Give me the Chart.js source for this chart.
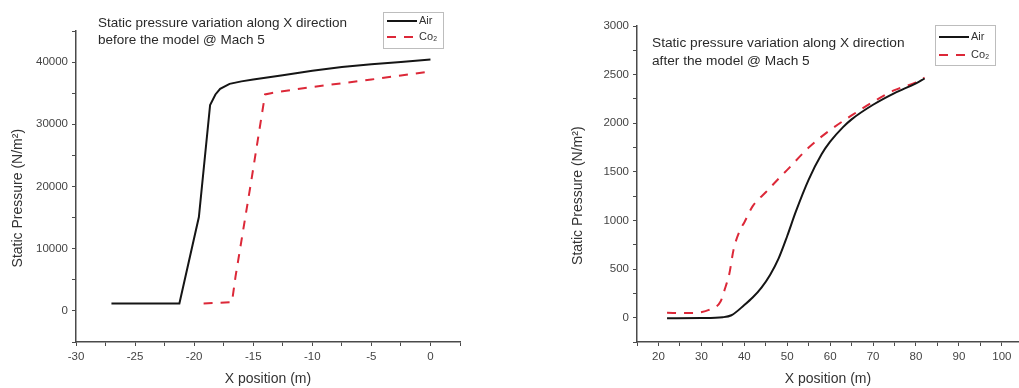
<!DOCTYPE html>
<html>
<head>
<meta charset="utf-8">
<script src="https://cdn.jsdelivr.net/npm/chart.js@4/dist/chart.umd.min.js"></script>
<style>
  body { margin: 0; background: #fff; }
  #wrap { position: relative; width: 1019px; height: 388px; overflow: hidden; }
  canvas { position: absolute; top: 0; }
</style>
</head>
<body>
<div id="wrap">
  <canvas id="before" width="510" height="388" style="left:0"></canvas>
  <canvas id="after" width="509" height="388" style="left:510px"></canvas>
</div>
<script>
// Before the model (left panel)
const beforeAirX = [-27, -21.25, -19.6, -18.65, -18.2, -17.8, -17.0, -16.0, -15.0, -12.5, -10, -7.5, -5, -2.5, 0];
const beforeAirY = [1200, 1200, 15100, 33100, 34800, 35700, 36500, 36900, 37200, 37900, 38600, 39200, 39650, 40000, 40400];
const beforeCo2X = [-19.2, -16.8, -16.5, -15.2, -14.0, -13.5, -12.5, -10, -7.5, -5, -2.5, 0];
const beforeCo2Y = [1200, 1400, 5500, 20500, 34800, 35000, 35300, 36000, 36600, 37200, 37850, 38500];
const beforeXLabels = [-30, -25, -20, -15, -10, -5, 0];
const beforeYLabels = [0, 10000, 20000, 30000, 40000];

// After the model (right panel)
const afterAirX = [22, 30, 35, 37, 40, 42, 44, 46, 48, 50, 52, 55, 58, 60, 63, 65, 70, 75, 80, 82];
const afterAirY = [-5, -3, 5, 25, 130, 210, 310, 440, 610, 840, 1090, 1420, 1680, 1810, 1960, 2040, 2190, 2310, 2410, 2460];
const afterCo2X = [22, 27, 32, 34.5, 35.5, 36.5, 37.5, 39, 40, 42, 45, 48, 50, 55, 60, 65, 70, 75, 80, 82];
const afterCo2Y = [50, 48, 85, 170, 300, 450, 700, 900, 980, 1150, 1290, 1430, 1520, 1750, 1930, 2080, 2220, 2340, 2420, 2470];
const afterXLabels = [20, 30, 40, 50, 60, 70, 80, 90, 100];
const afterYLabels = [0, 500, 1000, 1500, 2000, 2500, 3000];

const seriesNames = ['Air', 'Co\u2082'];
const FONT = '"Liberation Sans", Arial, sans-serif';
const axisColor = '#4a4a4a';
const airColor = '#151515';
const co2Color = '#dc2838';

function toPoints(xs, ys) {
    return xs.map((x, i) => ({ x: x, y: ys[i] }));
}

// Note text + boxed legend inside the plot
const panelDecor = {
    id: 'panelDecor',
    afterDraw(chart, args, opts) {
        const ctx = chart.ctx;
        ctx.save();
        ctx.font = opts.noteSize + 'px ' + FONT;
        ctx.fillStyle = '#2a2a2a';
        ctx.textBaseline = 'middle';
        opts.note.forEach((line, i) => ctx.fillText(line, opts.noteX, opts.noteY + i * opts.noteGap));

        const b = opts.box;
        ctx.strokeStyle = '#bdbdbd';
        ctx.lineWidth = 1;
        ctx.strokeRect(b.x + 0.5, b.y + 0.5, b.w, b.h);
        ctx.font = '11px ' + FONT;
        chart.data.datasets.forEach((ds, i) => {
            const y = b.y + b.rows[i];
            ctx.beginPath();
            ctx.setLineDash(ds.borderDash || []);
            ctx.strokeStyle = ds.borderColor;
            ctx.lineWidth = 2;
            ctx.moveTo(b.x + 4, y);
            ctx.lineTo(b.x + 34, y);
            ctx.stroke();
            ctx.setLineDash([]);
            ctx.fillStyle = '#333';
            ctx.fillText(ds.label, b.x + 36, y);
        });
        ctx.restore();
    }
};

function axis(min, max, step, labels, fit, title) {
    return {
        type: 'linear',
        min: min,
        max: max,
        border: { display: true, color: axisColor, width: 1.5 },
        grid: { display: true, drawOnChartArea: false, drawTicks: true, tickLength: 4, color: axisColor },
        afterBuildTicks: scale => {
            scale.ticks = scale.ticks.filter(t => Math.abs(t.value / step - Math.round(t.value / step)) < 1e-6);
        },
        afterFit: fit,
        ticks: {
            stepSize: step,
            includeBounds: false,
            autoSkip: false,
            maxRotation: 0,
            padding: 4,
            color: '#444',
            font: { family: FONT, size: 11.5 },
            callback: v => labels.includes(v) ? String(v) : ''
        },
        title: title
    };
}

function makePanel(id, airPts, co2Pts, smooth, scales, padding, decor) {
    return new Chart(document.getElementById(id), {
        type: 'line',
        data: {
            datasets: [{
                label: seriesNames[0],
                data: airPts,
                borderColor: airColor,
                borderWidth: 2,
                pointRadius: 0,
                tension: 0,
                cubicInterpolationMode: smooth ? 'monotone' : 'default'
            }, {
                label: seriesNames[1],
                data: co2Pts,
                borderColor: co2Color,
                borderWidth: 2,
                borderDash: [9, 8],
                pointRadius: 0,
                tension: 0,
                cubicInterpolationMode: smooth ? 'monotone' : 'default'
            }]
        },
        options: {
            responsive: false,
            animation: false,
            layout: { padding: padding },
            plugins: {
                legend: { display: false },
                tooltip: { enabled: false },
                panelDecor: decor
            },
            scales: scales
        },
        plugins: [panelDecor]
    });
}

// trailing spaces push the rotated title a little down, as in the original figure
const yTitleText = 'Static Pressure (N/m\u00b2)      ';
const xTitle = {
    display: true, text: 'X position (m)', color: '#333',
    font: { family: FONT, size: 14 }, padding: { top: 0, bottom: 0 }
};

makePanel('before',
    toPoints(beforeAirX, beforeAirY),
    toPoints(beforeCo2X, beforeCo2Y),
    false,
    {
        x: axis(-30, 2.5, 2.5, beforeXLabels, s => { s.height = 46; }, xTitle),
        y: axis(-5000, 45000, 5000, beforeYLabels, s => { s.width = 76; }, {
            display: true, text: yTitleText, color: '#333',
            font: { family: FONT, size: 14 }, padding: { top: 10, bottom: 0 }
        })
    },
    { top: 31, right: 50, bottom: 0, left: 0 },
    {
        note: ['Static pressure variation along X direction', 'before the model @ Mach 5'],
        noteSize: 13.5, noteX: 98, noteY: 23, noteGap: 17,
        box: { x: 383, y: 12, w: 60, h: 36, rows: [9, 25] }
    }
);

makePanel('after',
    toPoints(afterAirX, afterAirY),
    toPoints(afterCo2X, afterCo2Y),
    true,
    {
        x: axis(15, 104, 5, afterXLabels, s => { s.height = 46; }, xTitle),
        y: axis(-250, 3000, 250, afterYLabels, s => { s.width = 127; }, {
            display: true, text: yTitleText, color: '#333',
            font: { family: FONT, size: 14 }, padding: { top: 60, bottom: 0 }
        })
    },
    { top: 26, right: 0, bottom: 0, left: 0 },
    {
        note: ['Static pressure variation along X direction', 'after the model @ Mach 5'],
        noteSize: 13.7, noteX: 142, noteY: 43, noteGap: 18,
        box: { x: 425, y: 25, w: 60, h: 40, rows: [12, 30] }
    }
);
</script>
</body>
</html>
